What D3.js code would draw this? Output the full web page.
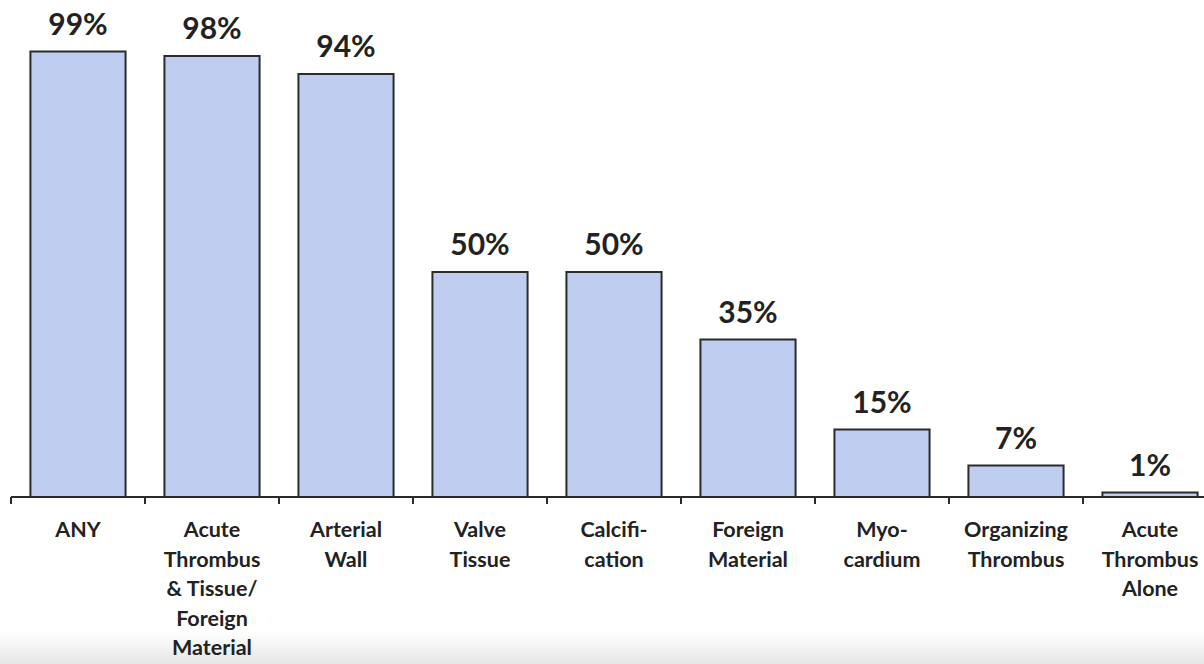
<!DOCTYPE html>
<html>
<head>
<meta charset="utf-8">
<script src="https://cdn.jsdelivr.net/npm/d3@7"></script>
<style>
  html, body { margin: 0; padding: 0; background: #ffffff; overflow: hidden; }
  svg { display: block; }
</style>
</head>
<body>
<svg id="chart" width="1204" height="664"></svg>
<script>
// Share of cases in which each material type was found
const categories = [
  "ANY",
  "Acute Thrombus & Tissue/ Foreign Material",
  "Arterial Wall",
  "Valve Tissue",
  "Calcification",
  "Foreign Material",
  "Myocardium",
  "Organizing Thrombus",
  "Acute Thrombus Alone"
];
const values = [99, 98, 94, 50, 50, 35, 15, 7, 1];
// Axis label text, one entry per line
const tickLabels = [
  ["ANY"],
  ["Acute", "Thrombus", "& Tissue/", "Foreign", "Material"],
  ["Arterial", "Wall"],
  ["Valve", "Tissue"],
  ["Calcifi-", "cation"],
  ["Foreign", "Material"],
  ["Myo-", "cardium"],
  ["Organizing", "Thrombus"],
  ["Acute", "Thrombus", "Alone"]
];

const W = 1204, H = 664;
const svg = d3.select("#chart");
const FONT = "Lato, 'Open Sans', sans-serif";

// faint shading along the bottom edge
const defs = svg.append("defs");
const grad = defs.append("linearGradient")
  .attr("id", "bottomShade").attr("x1", 0).attr("y1", 0).attr("x2", 0).attr("y2", 1);
grad.append("stop").attr("offset", "0%").attr("stop-color", "#ffffff");
grad.append("stop").attr("offset", "100%").attr("stop-color", "#e6e6e6");
svg.append("rect").attr("x", 0).attr("y", 632).attr("width", W).attr("height", H - 632)
  .attr("fill", "url(#bottomShade)");

const x = d3.scaleBand()
  .domain(categories)
  .range([11, 1217])
  .paddingInner(0.29)
  .paddingOuter(0.145);

const y = d3.scaleLinear().domain([0, 100]).range([497, 47]);

const data = categories.map((c, i) => ({ cat: c, v: values[i], lines: tickLabels[i] }));

// bars
svg.append("g").selectAll("rect")
  .data(data)
  .join("rect")
  .attr("x", d => x(d.cat))
  .attr("y", d => y(d.v))
  .attr("width", x.bandwidth())
  .attr("height", d => y(0) - y(d.v))
  .attr("fill", "#bfcdf0")
  .attr("stroke", "#2b2b2b")
  .attr("stroke-width", 2);

// category axis: line with ticks between categories
const step = x.step();
const gap = step * x.paddingInner();
const axis = d3.axisBottom(x).tickSize(0).tickFormat("");
const gAxis = svg.append("g").attr("transform", `translate(0,${y(0)})`).call(axis);
gAxis.select(".domain").remove();
gAxis.append("line")
  .attr("x1", x(categories[0]) - gap / 2).attr("x2", W + 2)
  .attr("y1", 0).attr("y2", 0)
  .attr("stroke", "#2b2b2b").attr("stroke-width", 2);
gAxis.selectAll(".sep")
  .data(categories)
  .join("line")
  .attr("class", "sep")
  .attr("x1", d => x(d) - gap / 2).attr("x2", d => x(d) - gap / 2)
  .attr("y1", 0).attr("y2", 7)
  .attr("stroke", "#2b2b2b").attr("stroke-width", 2);

// multi-line category labels
const lab = svg.append("g").selectAll("text")
  .data(data)
  .join("text")
  .attr("text-anchor", "middle")
  .attr("font-family", FONT)
  .attr("font-weight", 700)
  .attr("font-size", 21.5)
  .attr("fill", "#222");
lab.selectAll("tspan")
  .data(d => d.lines.map(l => ({ l, cx: x(d.cat) + x.bandwidth() / 2 })))
  .join("tspan")
  .attr("x", d => d.cx)
  .attr("y", (d, i) => 537 + i * 29.5)
  .text(d => d.l);

// value labels above bars
svg.append("g").selectAll("text")
  .data(data)
  .join("text")
  .attr("x", d => x(d.cat) + x.bandwidth() / 2)
  .attr("y", d => y(d.v) - 17)
  .attr("text-anchor", "middle")
  .attr("font-family", FONT)
  .attr("font-weight", 700)
  .attr("font-size", 30)
  .attr("fill", "#222")
  .text(d => d.v + "%");
</script>
</body>
</html>
